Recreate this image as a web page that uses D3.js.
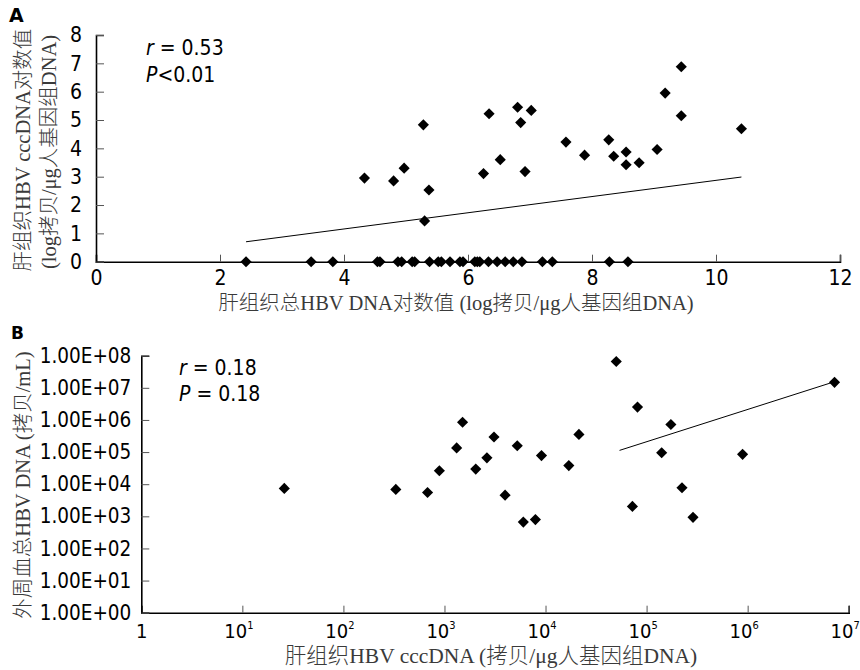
<!DOCTYPE html>
<html>
<head>
<meta charset="utf-8">
<script src="https://cdn.jsdelivr.net/npm/d3@7"></script>
<style>
  body { margin: 0; background: #fff; }
  .tick text { font-family: "DejaVu Sans Condensed", "DejaVu Sans", sans-serif; fill: #000; }
  .title { font-family: "Liberation Serif", "Noto Sans CJK SC", serif; font-weight: 300; fill: #3a3a3a; }
</style>
</head>
<body>
<svg id="chart"></svg>
<script>
// panel A: log total HBV DNA vs log cccDNA
const aTotalLog = [4.33, 4.80, 4.97, 5.28, 5.37, 5.30, 6.25, 6.34, 6.52, 6.80, 6.85, 6.92, 7.02,
  7.58, 7.88, 8.27, 8.35, 8.55, 8.55, 8.76, 9.05, 9.18, 9.44, 9.44, 10.41];
const aCccLog = [2.95, 2.85, 3.30, 4.83, 2.53, 1.44, 3.11, 5.22, 3.60, 5.45, 4.91, 3.18, 5.34,
  4.22, 3.76, 4.30, 3.72, 3.87, 3.42, 3.49, 3.96, 5.95, 6.88, 5.15, 4.69];
// cccDNA undetectable (plotted at 0)
const aZeroTotalLog = [2.42, 3.47, 3.82, 4.54, 4.58, 4.87, 4.93, 5.10, 5.14, 5.38, 5.52, 5.57, 5.71,
  5.87, 5.92, 6.11, 6.15, 6.19, 6.33, 6.47, 6.60, 6.73, 6.87, 7.20, 7.36, 8.28, 8.58];
const aXTicks = [0, 2, 4, 6, 8, 10, 12];
const aYTicks = [0, 1, 2, 3, 4, 5, 6, 7, 8];
const trendA = { intercept: 0.011, slope: 0.286 };

// panel B: cccDNA copies vs serum HBV DNA
const bCcc = [26, 330, 680, 890, 1320, 1510, 2040, 2630, 3090, 3980, 5250, 6030, 7940, 9120,
  17000, 21400, 50100, 72400, 81300, 141000, 174000, 224000, 288000, 891000, 7240000];
const bSerum = [7400, 6900, 5500, 26300, 135000, 851000, 29500, 66100, 295000, 4570, 158000, 660, 790,
  77600, 38000, 355000, 66100000, 2040, 2510000, 95500, 724000, 7760, 930, 85100, 14800000];
const bXTicks = [1, 1e1, 1e2, 1e3, 1e4, 1e5, 1e6, 1e7];
const bYTicks = [1, 1e1, 1e2, 1e3, 1e4, 1e5, 1e6, 1e7, 1e8];
const trendB = { coef: 1.98, power: 1.005, from: 54000, to: 7240000 };

const width = 860, height = 670;
const svg = d3.select('#chart').attr('width', width).attr('height', height);

const diamond = d3.symbol().type(d3.symbolSquare).size(62);

function drawPoints(g, pts) {
  g.selectAll('.pt')
    .data(pts)
    .enter()
    .append('path')
    .attr('d', diamond)
    .attr('transform', d => `translate(${d[0]},${d[1]}) rotate(45)`)
    .attr('fill', '#000');
}

function styleAxis(g) {
  g.select('.domain').attr('stroke', '#000').attr('stroke-width', 1.6);
  g.selectAll('.tick line').attr('stroke', '#555').attr('stroke-width', 1);
}

// ---------- panel A ----------
const ax = d3.scaleLinear().domain([0, 12]).range([96, 840]);
const ay = d3.scaleLinear().domain([0, 8]).range([261.7, 35]);
const gA = svg.append('g');

gA.append('g')
  .attr('transform', `translate(0,${ay(0)})`)
  .call(d3.axisBottom(ax).tickValues(aXTicks).tickSize(-7).tickPadding(13).tickFormat(d3.format('d')))
  .call(styleAxis)
  .call(g => g.selectAll('.tick text').attr('font-size', 21).attr('dy', '0.5em'));

gA.append('g')
  .attr('transform', `translate(${ax(0)},0)`)
  .call(d3.axisLeft(ay).tickValues(aYTicks).tickSize(-8).tickPadding(14).tickFormat(d3.format('d')))
  .call(styleAxis)
  .call(g => g.selectAll('.tick text').attr('font-size', 21));

const aX0 = d3.min(aTotalLog.concat(aZeroTotalLog));
const aX1 = d3.max(aTotalLog);
gA.append('path')
  .datum([aX0, aX1])
  .attr('d', d3.line().x(d => ax(d)).y(d => ay(trendA.intercept + trendA.slope * d)))
  .attr('stroke', '#000').attr('stroke-width', 1).attr('fill', 'none');

drawPoints(gA, aTotalLog.map((x, i) => [ax(x), ay(aCccLog[i])])
  .concat(aZeroTotalLog.map(x => [ax(x), ay(0)])));

gA.append('text').attr('x', 9).attr('y', 22)
  .attr('font-family', 'DejaVu Sans, sans-serif').attr('font-weight', 'bold').attr('font-size', 19)
  .text('A');

const statA = gA.append('g').attr('font-family', 'DejaVu Sans Condensed, DejaVu Sans, sans-serif')
  .attr('font-size', 21);
statA.append('text').attr('x', 146).attr('y', 55)
  .html('<tspan font-style="italic">r</tspan> = 0.53');
statA.append('text').attr('x', 146).attr('y', 82)
  .html('<tspan font-style="italic">P</tspan>&lt;0.01');

gA.append('text').attr('class', 'title')
  .attr('x', 456).attr('y', 310).attr('text-anchor', 'middle').attr('font-size', 20.5)
  .text('肝组织总HBV DNA对数值 (log拷贝/μg人基因组DNA)');
gA.append('text').attr('class', 'title')
  .attr('transform', 'translate(30,150) rotate(-90)').attr('text-anchor', 'middle').attr('font-size', 20.5)
  .text('肝组织HBV cccDNA对数值');
gA.append('text').attr('class', 'title')
  .attr('transform', 'translate(56,152) rotate(-90)').attr('text-anchor', 'middle').attr('font-size', 20.5)
  .text('(log拷贝/μg人基因组DNA)');

// ---------- panel B ----------
const bx = d3.scaleLog().domain([1, 1e7]).range([141.3, 848.7]);
const by = d3.scaleLog().domain([1, 1e8]).range([612.7, 355.7]);
const gB = svg.append('g');

gB.append('g')
  .attr('transform', `translate(0,${by(1)})`)
  .call(d3.axisBottom(bx).tickValues(bXTicks).tickSize(-7).tickPadding(15).tickFormat(''))
  .call(styleAxis)
  .call(g => g.selectAll('.tick text').attr('font-size', 20).attr('dy', '0.5em')
    .each(function (d) {
      const t = d3.select(this);
      const e = Math.round(Math.log10(d));
      if (e === 0) { t.text('1'); return; }
      t.attr('x', -4);
      t.append('tspan').text('10');
      t.append('tspan').attr('font-size', 11).attr('dy', '-0.8em').text(e);
    }));

gB.append('g')
  .attr('transform', `translate(${bx(1)},0)`)
  .call(d3.axisLeft(by).tickValues(bYTicks).tickSize(-8).tickPadding(10)
    .tickFormat(d => '1.00E+' + String(Math.round(Math.log10(d))).padStart(2, '0')))
  .call(styleAxis)
  .call(g => g.selectAll('.tick text').attr('font-size', 20.5));

gB.append('path')
  .datum([trendB.from, trendB.to])
  .attr('d', d3.line().x(d => bx(d)).y(d => by(trendB.coef * Math.pow(d, trendB.power))))
  .attr('stroke', '#000').attr('stroke-width', 1).attr('fill', 'none');

drawPoints(gB, bCcc.map((x, i) => [bx(x), by(bSerum[i])]));

gB.append('text').attr('x', 11).attr('y', 339)
  .attr('font-family', 'DejaVu Sans, sans-serif').attr('font-weight', 'bold').attr('font-size', 17)
  .text('B');

const statB = gB.append('g').attr('font-family', 'DejaVu Sans Condensed, DejaVu Sans, sans-serif')
  .attr('font-size', 21);
statB.append('text').attr('x', 179).attr('y', 375)
  .html('<tspan font-style="italic">r</tspan> = 0.18');
statB.append('text').attr('x', 179).attr('y', 401)
  .html('<tspan font-style="italic">P</tspan> = 0.18');

gB.append('text').attr('class', 'title')
  .attr('x', 491).attr('y', 663).attr('text-anchor', 'middle').attr('font-size', 21.5)
  .text('肝组织HBV cccDNA (拷贝/μg人基因组DNA)');
gB.append('text').attr('class', 'title')
  .attr('transform', 'translate(30,485) rotate(-90)').attr('text-anchor', 'middle').attr('font-size', 20.5)
  .text('外周血总HBV DNA (拷贝/mL)');
</script>
</body>
</html>
